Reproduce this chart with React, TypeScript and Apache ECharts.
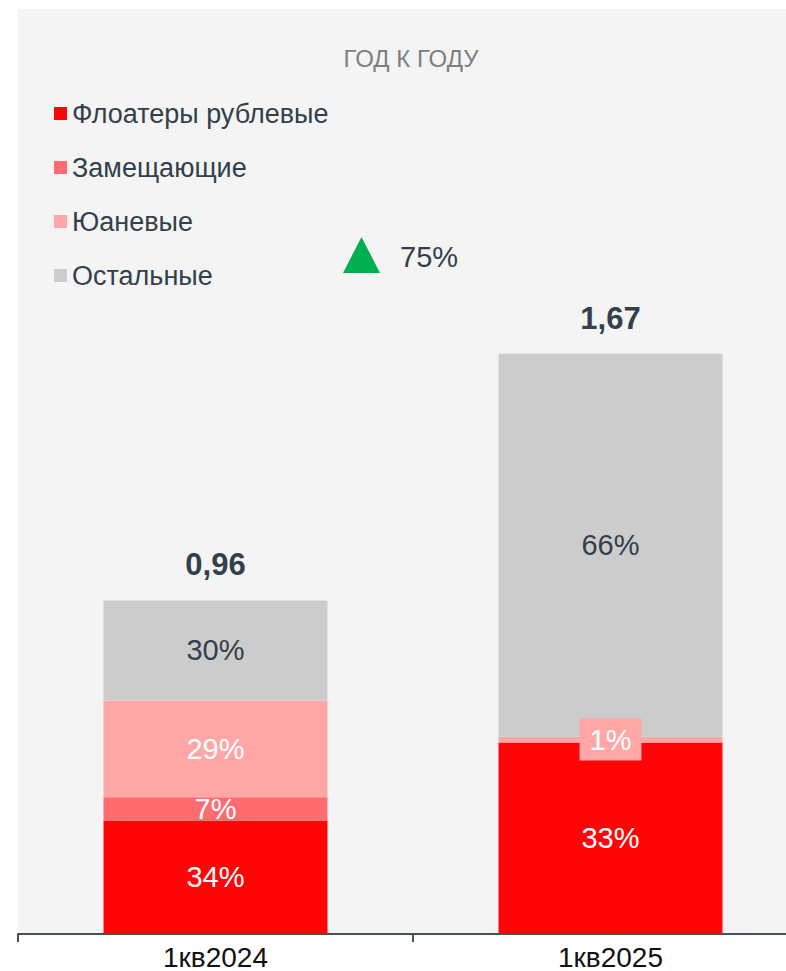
import React, { useEffect, useRef } from "react";
import * as echarts from "echarts";

const categories = ["1кв2024", "1кв2025"];
const totals = [0.96, 1.67];
const totalLabels = ["0,96", "1,67"];
const seriesNames = ["Флоатеры рублевые", "Замещающие", "Юаневые", "Остальные"];
const floaters = [34, 33];
const replacing = [7, 0];
const yuan = [29, 1];
const other = [30, 66];
const growthLabel = "75%";
const titleText = "ГОД К ГОДУ";

const colors = ["#ff0508", "#ff6b6e", "#ffa6a6", "#cccccc"];
const FONT = "'Liberation Sans', Arial, sans-serif";
const DARK = "#333f4a";

export default function App() {
  const ref = useRef<HTMLDivElement>(null);
  useEffect(() => {
    document.body.style.margin = "0";
    const chart = echarts.init(ref.current!, null, { renderer: "svg" });
    const shares = [floaters, replacing, yuan, other];
    const series: any[] = shares.map((arr, si) => ({
      name: seriesNames[si],
      type: "bar",
      stack: "total",
      barWidth: "56.7%",
      itemStyle: { color: colors[si] },
      label: {
        show: true,
        position: "inside",
        fontFamily: FONT,
        fontSize: 29,
        color: si === 3 ? DARK : "#ffffff",
        formatter: (p: any) => (arr[p.dataIndex] > 0 ? arr[p.dataIndex] + "%" : ""),
      },
      data: arr.map((s, i) => {
        const item: any = { value: (s / 100) * totals[i] };
        if (s > 0 && s < 3) {
          item.label = {
            backgroundColor: colors[si],
            padding: [7, 10],
            lineHeight: 28,
          };
        }
        return item;
      }),
    }));
    series.push({
      name: "total",
      type: "bar",
      stack: "total",
      barWidth: "56.7%",
      itemStyle: { color: "transparent" },
      label: {
        show: true,
        position: "top",
        distance: 20,
        fontFamily: FONT,
        fontSize: 31,
        fontWeight: "bold",
        color: DARK,
        formatter: (p: any) => totalLabels[p.dataIndex],
      },
      data: totals.map(() => 0),
    });
    chart.setOption({
      animation: false,
      textStyle: { fontFamily: FONT },
      graphic: [
        {
          type: "rect",
          z: -10,
          silent: true,
          shape: { x: 18, y: 9, width: 790, height: 925 },
          style: { fill: "#f4f4f4" },
        },
        {
          type: "polygon",
          shape: { points: [[343, 273], [361.5, 237], [380, 273]] },
          style: { fill: "#00b050" },
        },
        {
          type: "text",
          x: 400,
          y: 257,
          style: {
            text: growthLabel,
            fontFamily: FONT,
            fontSize: 29,
            fill: DARK,
            verticalAlign: "middle",
          },
        },
        {
          type: "text",
          x: 411,
          y: 58,
          style: {
            text: titleText,
            fontFamily: FONT,
            fontSize: 24,
            fill: "#7f7f7f",
            align: "center",
            verticalAlign: "middle",
          },
        },
      ],
      legend: {
        orient: "vertical",
        left: 54,
        top: 100,
        padding: 0,
        icon: "rect",
        itemWidth: 13,
        itemHeight: 13,
        itemGap: 27,
        data: seriesNames,
        textStyle: { fontFamily: FONT, fontSize: 27, color: DARK },
      },
      grid: { left: 18, right: 0, top: 239, bottom: 37, outerBoundsMode: "none", containLabel: false },
      xAxis: {
        type: "category",
        data: categories,
        axisLine: { lineStyle: { color: "#44505c", width: 2 } },
        axisTick: { show: true, length: 8, lineStyle: { color: "#44505c", width: 2 } },
        axisLabel: { fontFamily: FONT, fontSize: 28, color: "#111111", margin: 9 },
      },
      yAxis: {
        type: "value",
        min: 0,
        max: 2,
        show: false,
        splitLine: { show: false },
      },
      series,
    });
    return () => chart.dispose();
  }, []);
  return (
    <div style={{ width: 786, height: 971, overflow: "hidden" }}>
      <div ref={ref} style={{ width: 808, height: 971 }} />
    </div>
  );
}
